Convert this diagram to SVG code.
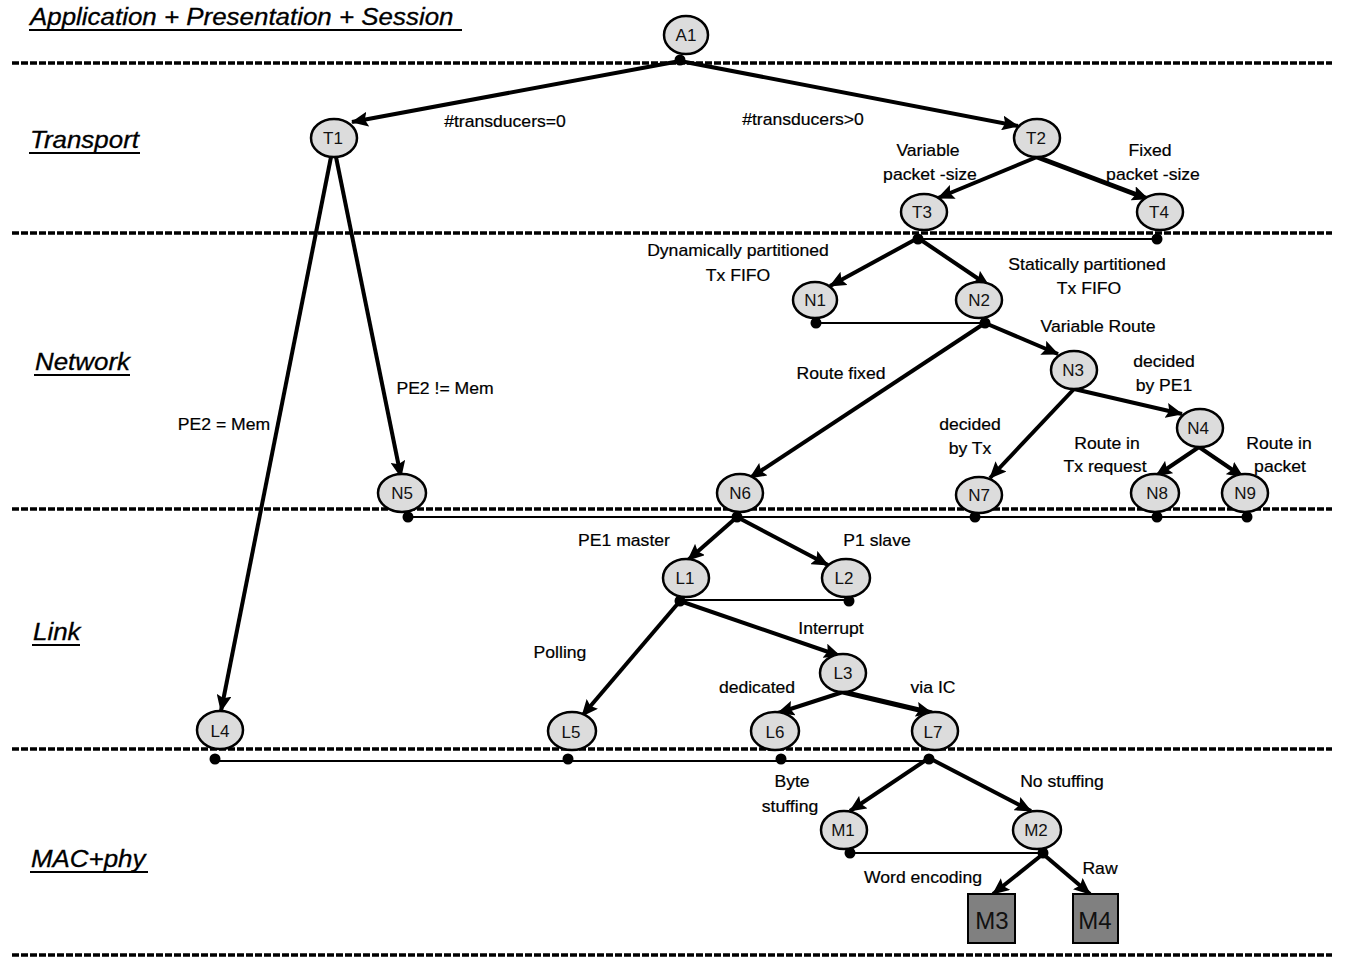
<svg xmlns="http://www.w3.org/2000/svg" width="1346" height="958" viewBox="0 0 1346 958">
  <defs>
    <marker id="arrow" markerUnits="userSpaceOnUse" markerWidth="18" markerHeight="15" refX="16" refY="7.5" orient="auto">
      <path d="M0,0 L17,7.5 L0,15 L3,7.5 z" fill="#000"/>
    </marker>
    <style>
      .layer { stroke: #000; stroke-width: 3.5; stroke-dasharray: 7 2; fill: none; }
      .title { font-family: "Liberation Sans", Arial, sans-serif; font-style: italic; font-size: 24px; fill: #000; stroke: #000; stroke-width: 0.3; }
      .uline { stroke: #000; stroke-width: 1.8; }
      .node ellipse { fill: #dcdcdc; stroke: #000; stroke-width: 2.5; }
      .node text { font-family: "Liberation Sans", Arial, sans-serif; font-size: 17px; fill: #111; text-anchor: middle; }
      .leaf rect { fill: #808080; stroke: #000; stroke-width: 2; }
      .leaf text { font-family: "Liberation Sans", Arial, sans-serif; font-size: 24px; fill: #111; text-anchor: middle; }
      .edge { stroke: #000; stroke-width: 4; fill: none; marker-end: url(#arrow); }
      .edge.heavy { stroke-width: 5; }
      .tie { stroke: #000; stroke-width: 2; fill: none; }
      .dot { fill: #000; }
      .lbl { font-family: "Liberation Sans", Arial, sans-serif; font-size: 16px; fill: #000; stroke: #000; stroke-width: 0.2; text-anchor: middle; }
    </style>
  </defs>

  <rect width="1346" height="958" fill="#fff"/>

  <!-- layer separators -->
  <g id="layers">
    <line class="layer" x1="12" y1="63" x2="1332" y2="63"/>
    <line class="layer" x1="12" y1="233" x2="1332" y2="233"/>
    <line class="layer" x1="12" y1="509" x2="1332" y2="509"/>
    <line class="layer" x1="12" y1="749" x2="1332" y2="749"/>
    <line class="layer" x1="12" y1="955" x2="1332" y2="955"/>
  </g>

  <!-- layer titles -->
  <g id="titles">
    <text class="title" transform="translate(30,25) scale(1.08,1)">Application + Presentation + Session</text>
    <line class="uline" x1="29" y1="30" x2="462" y2="30"/>
    <text class="title" transform="translate(30,148) scale(1.08,1)">Transport</text>
    <line class="uline" x1="29" y1="153" x2="140" y2="153"/>
    <text class="title" transform="translate(35,370) scale(1.08,1)">Network</text>
    <line class="uline" x1="34" y1="375" x2="130" y2="375"/>
    <text class="title" transform="translate(33,640) scale(1.08,1)">Link</text>
    <line class="uline" x1="32" y1="645" x2="80" y2="645"/>
    <text class="title" transform="translate(31,867) scale(1.08,1)">MAC+phy</text>
    <line class="uline" x1="30" y1="872" x2="148" y2="872"/>
  </g>

  <!-- connectors -->
  <g id="connectors">
    <!-- sibling ties -->
    <line class="tie" x1="918" y1="239" x2="1157" y2="239"/>
    <line class="tie" x1="816" y1="323" x2="985" y2="323"/>
    <line class="tie" x1="408" y1="517" x2="1247" y2="517"/>
    <line class="tie" x1="680" y1="600" x2="849" y2="600"/>
    <line class="tie" x1="215" y1="761" x2="929" y2="761"/>
    <line class="tie" x1="850" y1="853" x2="1043" y2="853"/>

    <!-- decision edges -->
    <line class="edge" x1="680" y1="61" x2="352" y2="122"/>
    <line class="edge" x1="680" y1="61" x2="1018" y2="126"/>
    <line class="edge" x1="336" y1="157" x2="401" y2="477"/>
    <line class="edge" x1="331" y1="157" x2="221" y2="711"/>
    <line class="edge" x1="1037" y1="157" x2="938" y2="198"/>
    <line class="edge heavy" x1="1037" y1="157" x2="1148" y2="199"/>
    <line class="edge" x1="918" y1="238" x2="830" y2="286"/>
    <line class="edge" x1="918" y1="238" x2="989" y2="286"/>
    <line class="edge" x1="985" y1="323" x2="1058" y2="354"/>
    <line class="edge" x1="985" y1="323" x2="750" y2="478"/>
    <line class="edge" x1="1074" y1="389" x2="990" y2="478"/>
    <line class="edge" x1="1074" y1="389" x2="1182" y2="414"/>
    <line class="edge" x1="1199" y1="447" x2="1156" y2="476"/>
    <line class="edge" x1="1199" y1="447" x2="1243" y2="477"/>
    <line class="edge" x1="737" y1="517" x2="688" y2="560"/>
    <line class="edge" x1="737" y1="517" x2="828" y2="565"/>
    <line class="edge" x1="680" y1="601" x2="582" y2="716"/>
    <line class="edge" x1="680" y1="601" x2="840" y2="656"/>
    <line class="edge" x1="843" y1="692" x2="778" y2="713"/>
    <line class="edge heavy" x1="843" y1="692" x2="932" y2="713"/>
    <line class="edge" x1="929" y1="758" x2="850" y2="811"/>
    <line class="edge" x1="929" y1="758" x2="1031" y2="811"/>
    <line class="edge" x1="1043" y1="854" x2="993" y2="894"/>
    <line class="edge" x1="1043" y1="854" x2="1090" y2="894"/>

    <!-- junction dots -->
    <circle class="dot" cx="680" cy="60" r="5.5"/>
    <circle class="dot" cx="918" cy="239" r="5.5"/>
    <circle class="dot" cx="1157" cy="239" r="5.5"/>
    <circle class="dot" cx="816" cy="323" r="5.5"/>
    <circle class="dot" cx="985" cy="323" r="5.5"/>
    <circle class="dot" cx="408" cy="517" r="5.5"/>
    <circle class="dot" cx="737" cy="517" r="5.5"/>
    <circle class="dot" cx="975" cy="517" r="5.5"/>
    <circle class="dot" cx="1157" cy="517" r="5.5"/>
    <circle class="dot" cx="1247" cy="517" r="5.5"/>
    <circle class="dot" cx="680" cy="601" r="5.5"/>
    <circle class="dot" cx="849" cy="601" r="5.5"/>
    <circle class="dot" cx="215" cy="759" r="5.5"/>
    <circle class="dot" cx="568" cy="759" r="5.5"/>
    <circle class="dot" cx="781" cy="759" r="5.5"/>
    <circle class="dot" cx="929" cy="759" r="5.5"/>
    <circle class="dot" cx="850" cy="853" r="5.5"/>
    <circle class="dot" cx="1043" cy="853" r="5.5"/>
  </g>

  <!-- edge labels -->
  <g id="labels">
    <text class="lbl" transform="translate(505,127) scale(1.1,1)">#transducers=0</text>
    <text class="lbl" transform="translate(803,125) scale(1.1,1)">#transducers&gt;0</text>
    <text class="lbl" transform="translate(928,156) scale(1.1,1)">Variable</text>
    <text class="lbl" transform="translate(930,180) scale(1.1,1)">packet -size</text>
    <text class="lbl" transform="translate(1150,156) scale(1.1,1)">Fixed</text>
    <text class="lbl" transform="translate(1153,180) scale(1.1,1)">packet -size</text>
    <text class="lbl" transform="translate(738,256) scale(1.1,1)">Dynamically partitioned</text>
    <text class="lbl" transform="translate(738,281) scale(1.1,1)">Tx FIFO</text>
    <text class="lbl" transform="translate(1087,270) scale(1.1,1)">Statically partitioned</text>
    <text class="lbl" transform="translate(1089,294) scale(1.1,1)">Tx FIFO</text>
    <text class="lbl" transform="translate(1098,332) scale(1.1,1)">Variable Route</text>
    <text class="lbl" transform="translate(841,379) scale(1.1,1)">Route fixed</text>
    <text class="lbl" transform="translate(1164,367) scale(1.1,1)">decided</text>
    <text class="lbl" transform="translate(1164,391) scale(1.1,1)">by PE1</text>
    <text class="lbl" transform="translate(970,430) scale(1.1,1)">decided</text>
    <text class="lbl" transform="translate(970,454) scale(1.1,1)">by Tx</text>
    <text class="lbl" transform="translate(1107,449) scale(1.1,1)">Route in</text>
    <text class="lbl" transform="translate(1105,472) scale(1.1,1)">Tx request</text>
    <text class="lbl" transform="translate(1279,449) scale(1.1,1)">Route in</text>
    <text class="lbl" transform="translate(1280,472) scale(1.1,1)">packet</text>
    <text class="lbl" transform="translate(445,394) scale(1.1,1)">PE2 != Mem</text>
    <text class="lbl" transform="translate(224,430) scale(1.1,1)">PE2 = Mem</text>
    <text class="lbl" transform="translate(624,546) scale(1.1,1)">PE1 master</text>
    <text class="lbl" transform="translate(877,546) scale(1.1,1)">P1 slave</text>
    <text class="lbl" transform="translate(831,634) scale(1.1,1)">Interrupt</text>
    <text class="lbl" transform="translate(560,658) scale(1.1,1)">Polling</text>
    <text class="lbl" transform="translate(757,693) scale(1.1,1)">dedicated</text>
    <text class="lbl" transform="translate(933,693) scale(1.1,1)">via IC</text>
    <text class="lbl" transform="translate(792,787) scale(1.1,1)">Byte</text>
    <text class="lbl" transform="translate(790,812) scale(1.1,1)">stuffing</text>
    <text class="lbl" transform="translate(1062,787) scale(1.1,1)">No stuffing</text>
    <text class="lbl" transform="translate(923,883) scale(1.1,1)">Word encoding</text>
    <text class="lbl" transform="translate(1100,874) scale(1.1,1)">Raw</text>
  </g>

  <!-- nodes -->
  <g id="A1" class="node"><ellipse cx="686" cy="35" rx="22" ry="19"/><text x="686" y="41">A1</text></g>
  <g id="T1" class="node"><ellipse cx="334" cy="138" rx="23" ry="19"/><text x="333" y="144">T1</text></g>
  <g id="T2" class="node"><ellipse cx="1037" cy="138" rx="23" ry="19"/><text x="1036" y="144">T2</text></g>
  <g id="T3" class="node"><ellipse cx="924" cy="212" rx="23" ry="18"/><text x="922" y="218">T3</text></g>
  <g id="T4" class="node"><ellipse cx="1160" cy="212" rx="23" ry="18"/><text x="1159" y="218">T4</text></g>
  <g id="N1" class="node"><ellipse cx="815" cy="300" rx="22" ry="18"/><text x="815" y="306">N1</text></g>
  <g id="N2" class="node"><ellipse cx="979" cy="300" rx="23" ry="18"/><text x="979" y="306">N2</text></g>
  <g id="N3" class="node"><ellipse cx="1074" cy="370" rx="23" ry="19"/><text x="1073" y="376">N3</text></g>
  <g id="N4" class="node"><ellipse cx="1200" cy="428" rx="23" ry="19"/><text x="1198" y="434">N4</text></g>
  <g id="N5" class="node"><ellipse cx="402" cy="493" rx="24" ry="19"/><text x="402" y="499">N5</text></g>
  <g id="N6" class="node"><ellipse cx="740" cy="493" rx="23" ry="19"/><text x="740" y="499">N6</text></g>
  <g id="N7" class="node"><ellipse cx="979" cy="495" rx="23" ry="18"/><text x="979" y="501">N7</text></g>
  <g id="N8" class="node"><ellipse cx="1155" cy="493" rx="24" ry="19"/><text x="1157" y="499">N8</text></g>
  <g id="N9" class="node"><ellipse cx="1245" cy="493" rx="23" ry="19"/><text x="1245" y="499">N9</text></g>
  <g id="L1" class="node"><ellipse cx="686" cy="578" rx="23" ry="19"/><text x="685" y="584">L1</text></g>
  <g id="L2" class="node"><ellipse cx="846" cy="578" rx="24" ry="19"/><text x="844" y="584">L2</text></g>
  <g id="L3" class="node"><ellipse cx="843" cy="673" rx="23" ry="19"/><text x="843" y="679">L3</text></g>
  <g id="L4" class="node"><ellipse cx="220" cy="730" rx="23" ry="19"/><text x="220" y="737">L4</text></g>
  <g id="L5" class="node"><ellipse cx="572" cy="731" rx="24" ry="19"/><text x="571" y="738">L5</text></g>
  <g id="L6" class="node"><ellipse cx="775" cy="731" rx="24" ry="19"/><text x="775" y="738">L6</text></g>
  <g id="L7" class="node"><ellipse cx="935" cy="731" rx="23" ry="19"/><text x="933" y="738">L7</text></g>
  <g id="M1" class="node"><ellipse cx="844" cy="830" rx="23" ry="19"/><text x="843" y="836">M1</text></g>
  <g id="M2" class="node"><ellipse cx="1037" cy="830" rx="24" ry="19"/><text x="1036" y="836">M2</text></g>
  <g id="M3" class="leaf"><rect x="968" y="894" width="47" height="49"/><text x="992" y="929">M3</text></g>
  <g id="M4" class="leaf"><rect x="1073" y="894" width="45" height="49"/><text x="1095" y="929">M4</text></g>
</svg>
